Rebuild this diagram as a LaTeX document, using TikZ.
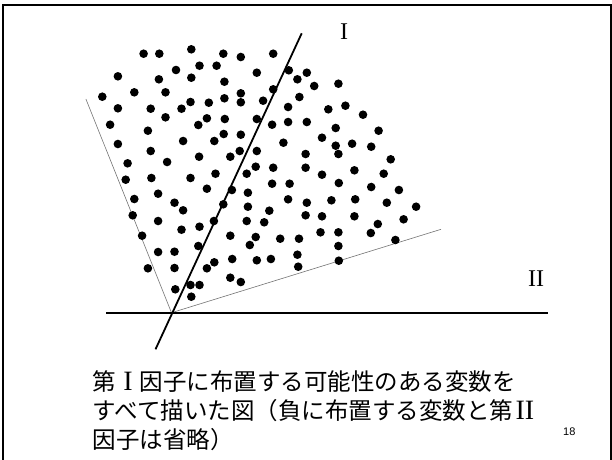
\documentclass[tikz,border=0pt]{standalone}
\usepackage{fontspec}
\setmainfont{Liberation Serif}
\newfontfamily\jafont{Noto Sans CJK JP}
\newfontfamily\pagefont{Liberation Sans}
\newcommand{\romI}[1]{\makebox[1em]{\rmfamily\fontsize{28}{28}\selectfont #1}}
\tikzset{
  frame/.style={draw, line width=1.8pt},
  axis/.style={draw, line width=1.8pt},
  bound/.style={draw=black!55, line width=0.6pt},
  vardot/.style={fill=black},
  axislabel/.style={anchor=base, inner sep=0pt, font=\fontsize{24}{24}\selectfont},
  caption/.style={anchor=base west, inner sep=0pt, font=\jafont\fontsize{23.5}{28}\selectfont},
  pagenum/.style={anchor=center, inner sep=0pt, font=\pagefont\fontsize{11}{11}\selectfont},
}

\begin{document}
\begin{tikzpicture}[x=1pt, y=-1pt]
    \useasboundingbox (0,0) rectangle (612,459);
    \draw[frame] (3,5.3) rectangle (610.7,470);
    % axes and bounds
    \coordinate (orig) at (171.5,312.7);
    \coordinate (Ibot) at (155.5,349.3);
    \coordinate (Itop) at (301.7,33.3);
    \coordinate (IIleft) at (106.2,312.7);
    \coordinate (IIright) at (547.6,312.7);
    \coordinate (bleft) at (85.9,99);
    \coordinate (bright) at (441,229.3);
    \draw[bound] (bleft) -- (orig) -- (bright);
    \draw[axis] (IIleft) -- (IIright);
    \draw[axis] (Ibot) -- (Itop);
    \node[axislabel] (labI) at (344,39.3) {I};
    \node[axislabel] (labII) at (536,286) {II};
    % variables
    \foreach \x/\y in {143.6/53.7, 159.3/53.7, 191.3/49.3, 223.3/53.7, 240.8/57.0, 273.2/53.7,
        117.9/76.3, 158.9/79.3, 176.0/70.0, 191.3/77.7, 199.5/65.7, 216.6/65.7, 224.4/81.7, 256.8/72.7,
        288.8/70.3, 306.8/72.7, 297.4/79.3, 314.2/86.0, 338.4/83.7,
        102.3/96.7, 134.3/92.3, 165.5/92.3, 240.8/93.3, 273.2/89.3,
        117.9/108.3, 150.7/108.7, 181.5/108.7, 190.5/102.0, 208.8/102.7, 224.4/98.3, 240.8/102.3, 263.1/100.7,
        299.4/97.0, 288.1/107.0, 328.3/109.3, 345.4/105.7, 363.0/114.7,
        110.1/124.7, 165.5/117.3, 198.3/125.0, 206.9/118.3, 224.8/119.0, 256.8/119.0, 272.1/124.7, 288.1/122.0, 306.8/122.0,
        147.9/130.7, 335.7/128.0, 378.6/130.7,
        117.9/144.0, 183.1/141.0, 214.3/141.0, 223.7/134.0, 240.8/134.7, 283.4/142.7, 322.0/137.7, 335.7/145.7, 352.1/143.7, 371.2/146.7,
        150.7/151.0, 199.1/156.7, 230.3/156.7, 239.7/151.0, 256.8/151.0, 305.6/154.0, 338.4/154.0,
        127.6/163.3, 167.1/162.0, 390.7/159.3,
        125.7/179.7, 151.4/178.0, 190.5/178.0, 215.5/173.7, 246.7/173.7, 255.7/166.7, 273.2/167.7, 305.6/167.7, 322.0/174.7, 354.4/170.3, 383.7/173.7,
        206.9/188.7, 231.9/190.0, 272.1/183.7, 289.6/183.7, 338.8/183.0, 371.2/187.0, 398.9/190.0,
        134.3/199.0, 158.1/193.7, 174.5/202.7, 223.3/204.3, 247.9/192.7, 288.1/199.3, 306.8/202.7, 331.4/200.3, 355.2/199.3, 386.8/202.7, 416.1/206.7,
        132.7/215.3, 183.1/210.3, 247.9/206.7, 269.3/210.7, 305.6/215.3, 322.0/216.3, 354.4/216.3, 403.6/219.3,
        158.1/221.0, 181.5/229.7, 199.5/226.7, 213.9/221.0, 246.7/221.0, 264.2/222.3, 377.8/224.0,
        142.1/235.7, 230.3/235.7, 255.7/237.0, 280.2/238.7, 299.0/238.7, 320.5/232.3, 338.4/232.3, 370.8/233.0, 395.4/240.0,
        198.3/246.0, 249.8/245.0, 338.4/246.0,
        158.1/252.0, 174.5/251.7, 297.4/254.7,
        147.9/268.3, 174.5/268.0, 206.9/268.3, 214.3/262.3, 232.2/259.0, 256.8/260.3, 270.9/259.0, 298.2/266.7, 338.8/260.7,
        230.3/277.7, 240.8/282.0,
        175.3/289.3, 190.5/285.0, 199.5/285.0, 191.3/296.7}
        \fill[vardot] (\x,\y) circle (4.3pt);
    % caption
    \node[caption] (cap1) at (92.5,390) {第\romI{I}因子に布置する可能性のある変数を};
    \node[caption] (cap2) at (92.5,419) {すべて描いた図（負に布置する変数と第\romI{II}};
    \node[caption] (cap3) at (92.5,448) {因子は省略）};
    \node[pagenum] (page) at (569.3,432) {18};
\end{tikzpicture}
\end{document}
